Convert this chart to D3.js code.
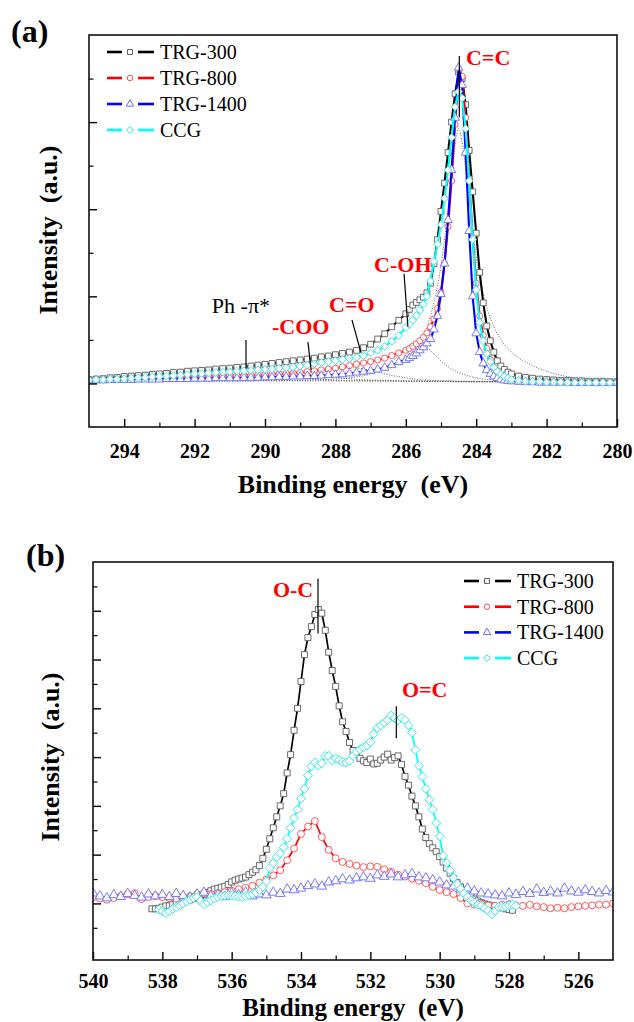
<!DOCTYPE html>
<html>
<head>
<meta charset="utf-8">
<title>XPS C1s and O1s</title>
<script src="https://cdn.jsdelivr.net/npm/d3@7/dist/d3.min.js"></script>
<style>
  body { margin: 0; background: #fff; }
  svg { display: block; font-family: "Liberation Serif", "Times New Roman", serif; }
</style>
</head>
<body>
<svg id="chart" width="634" height="1022"></svg>
<script>
// ---------- data ----------
const seriesNames = ["TRG-300", "TRG-800", "TRG-1400", "CCG"];

// (a) C1s, binding energy grid (eV)
const c1sEnergies = [295.0,294.8,294.6,294.4,294.2,294.0,293.8,293.6,293.4,293.2,293.0,292.8,292.6,292.4,292.2,
  292.0,291.8,291.6,291.4,291.2,291.0,290.8,290.6,290.4,290.2,290.0,289.8,289.6,289.4,289.2,
  289.0,288.8,288.6,288.4,288.2,288.0,287.8,287.6,287.4,287.2,287.0,286.8,286.6,286.4,286.2,
  286.0,285.9,285.8,285.7,285.6,285.5,285.4,285.3,285.2,285.1,285.0,284.9,284.8,284.7,284.6,
  284.5,284.4,284.3,284.2,284.1,284.0,283.9,283.8,283.7,283.6,283.5,283.4,283.3,283.2,283.1,283.0,
  282.8,282.6,282.4,282.2,282.0,281.8,281.6,281.4,281.2,281.0,280.8,280.6,280.4,280.2,280.0];

const c1sTRG300 = [0.09,0.10,0.11,0.13,0.14,0.16,0.17,0.18,0.19,0.21,0.22,0.23,0.25,0.26,0.28,
  0.29,0.30,0.31,0.33,0.34,0.35,0.37,0.38,0.40,0.42,0.44,0.46,0.48,0.50,0.52,
  0.54,0.56,0.58,0.61,0.63,0.66,0.69,0.72,0.76,0.82,0.90,1.02,1.14,1.30,1.45,
  1.60,1.70,1.80,1.86,1.92,1.98,2.08,2.30,2.75,3.30,3.95,4.60,5.30,6.00,6.65,
  7.15,7.00,6.40,5.35,4.40,3.45,2.55,1.85,1.32,0.98,0.72,0.52,0.40,0.32,0.26,0.22,
  0.17,0.14,0.12,0.10,0.09,0.08,0.07,0.07,0.06,0.06,0.05,0.05,0.05,0.04,0.04];

const c1sTRG800 = [0.08,0.08,0.09,0.09,0.10,0.10,0.11,0.11,0.12,0.12,0.13,0.13,0.14,0.14,0.15,
  0.15,0.16,0.16,0.17,0.17,0.18,0.18,0.19,0.19,0.20,0.20,0.21,0.22,0.23,0.24,
  0.25,0.27,0.29,0.31,0.33,0.35,0.38,0.41,0.44,0.47,0.50,0.54,0.58,0.64,0.70,
  0.76,0.80,0.85,0.91,0.98,1.06,1.16,1.30,1.48,1.72,2.10,2.75,3.60,4.65,5.95,
  7.20,7.05,6.10,4.70,3.35,2.30,1.55,1.10,0.80,0.55,0.36,0.24,0.15,0.11,0.08,0.06,
  0.05,0.04,0.04,0.03,0.03,0.03,0.03,0.02,0.02,0.02,0.02,0.02,0.02,0.02,0.02];

const c1sTRG1400 = [0.07,0.07,0.07,0.08,0.08,0.08,0.08,0.09,0.09,0.09,0.09,0.10,0.10,0.10,0.10,
  0.11,0.11,0.11,0.12,0.12,0.12,0.12,0.13,0.13,0.13,0.14,0.14,0.15,0.15,0.16,
  0.16,0.17,0.17,0.18,0.19,0.20,0.21,0.23,0.25,0.27,0.29,0.32,0.36,0.42,0.49,
  0.54,0.58,0.63,0.69,0.76,0.83,0.92,1.02,1.24,1.55,2.05,2.75,3.75,4.90,6.10,
  7.25,6.85,5.30,3.50,2.00,1.15,0.72,0.46,0.31,0.22,0.16,0.12,0.09,0.07,0.06,0.05,
  0.04,0.03,0.03,0.02,0.02,0.02,0.02,0.02,0.01,0.01,0.01,0.01,0.01,0.01,0.01];

const c1sCCG = [0.08,0.09,0.09,0.10,0.10,0.11,0.12,0.13,0.14,0.15,0.16,0.17,0.18,0.19,0.21,
  0.22,0.23,0.24,0.25,0.26,0.27,0.28,0.29,0.30,0.31,0.32,0.33,0.35,0.36,0.38,
  0.40,0.42,0.45,0.48,0.50,0.52,0.55,0.57,0.60,0.64,0.70,0.76,0.85,0.97,1.10,
  1.28,1.36,1.45,1.56,1.68,1.82,2.00,2.35,2.80,3.20,3.65,4.25,4.90,5.65,6.35,
  6.70,6.55,5.85,4.65,3.30,2.15,1.40,0.98,0.68,0.50,0.37,0.28,0.21,0.16,0.12,0.09,
  0.07,0.05,0.04,0.04,0.03,0.03,0.03,0.02,0.02,0.02,0.02,0.02,0.02,0.02,0.02];

// (a) fitted components (dotted)
const fitEnergies = [295,294,293,292,291,290.5,290,289.5,289,288.5,288,287.5,287,286.5,286,285.75,
  285.5,285.25,285,284.75,284.5,284.25,284,283.75,283.5,283.25,283,282.5,282,281.5,281,280.5,280];
const fitBackground = [0.07,0.07,0.07,0.07,0.07,0.07,0.07,0.07,0.06,0.06,0.06,0.06,0.06,0.06,0.05,0.05,
  0.05,0.05,0.05,0.05,0.04,0.04,0.04,0.04,0.04,0.04,0.04,0.03,0.03,0.03,0.03,0.03,0.03];
const fitCC = [0.05,0.05,0.06,0.07,0.08,0.09,0.10,0.11,0.13,0.15,0.18,0.22,0.28,0.38,0.58,0.78,
  1.10,1.70,2.70,4.30,5.85,4.60,2.90,1.90,1.30,0.95,0.72,0.45,0.28,0.17,0.11,0.08,0.06];
const fitCOH = [0.05,0.05,0.05,0.05,0.05,0.05,0.06,0.06,0.07,0.08,0.10,0.14,0.22,0.42,0.80,0.95,
  0.90,0.72,0.52,0.36,0.25,0.18,0.13,0.10,0.08,0.07,0.06,0.05,0.05,0.04,0.04,0.04,0.04];
const fitCO = [0.05,0.05,0.05,0.06,0.07,0.08,0.09,0.12,0.16,0.24,0.32,0.36,0.30,0.20,0.13,0.10,
  0.08,0.07,0.06,0.06,0.05,0.05,0.05,0.05,0.04,0.04,0.04,0.04,0.04,0.03,0.03,0.03,0.03];
const fitCOO = [0.05,0.06,0.07,0.09,0.12,0.15,0.18,0.21,0.22,0.19,0.14,0.10,0.08,0.07,0.06,0.06,
  0.05,0.05,0.05,0.05,0.05,0.04,0.04,0.04,0.04,0.04,0.04,0.04,0.03,0.03,0.03,0.03,0.03];
const fitPi = [0.07,0.09,0.12,0.17,0.20,0.19,0.17,0.14,0.11,0.09,0.07,0.06,0.06,0.05,0.05,0.05,
  0.05,0.05,0.05,0.04,0.04,0.04,0.04,0.04,0.04,0.04,0.04,0.03,0.03,0.03,0.03,0.03,0.03];

// (b) O1s, sampled from a start energy downwards
const o1sFineStep = 0.1, o1sCoarseStep = 0.2;
const o1sTRG300Start = 538.3, o1sCCGStart = 538.1, o1sWideStart = 540.0;

const o1sTRG300 = [-0.22,-0.22,-0.20,-0.15,-0.10,-0.10,-0.05,0.00,0.05,0.08,
  0.12,0.15,0.20,0.25,0.30,0.36,0.45,0.52,0.58,0.62,
  0.66,0.70,0.78,0.88,0.95,1.00,1.04,1.08,1.18,1.28,
  1.38,1.55,1.85,2.22,2.65,3.10,3.55,4.00,4.50,5.35,
  6.10,7.10,8.00,9.10,10.20,10.90,11.35,11.85,12.05,11.90,
  11.20,10.30,9.55,8.90,8.10,7.45,7.05,6.60,6.27,6.12,
  5.95,5.85,5.78,5.92,5.72,5.75,5.88,6.00,6.12,5.88,
  5.98,6.05,5.70,5.20,4.85,4.40,4.00,3.55,3.05,2.70,
  2.45,2.28,2.12,1.92,1.70,1.45,1.24,1.02,0.85,0.68,
  0.55,0.40,0.30,0.18,0.10,0.03,-0.02,-0.06,-0.10,-0.12,
  -0.14,-0.18,-0.22,-0.25,-0.28];

const o1sCCG = [-0.25,-0.32,-0.40,-0.32,-0.22,-0.15,-0.10,0.00,0.08,0.15,
  0.22,0.26,0.10,-0.03,0.05,0.13,0.20,0.26,0.30,0.32,
  0.34,0.32,0.30,0.28,0.27,0.30,0.34,0.38,0.45,0.55,
  0.68,0.90,1.45,1.65,1.90,2.05,2.30,2.65,3.10,3.50,
  3.85,4.30,4.70,5.25,5.62,5.78,5.65,5.75,6.05,6.05,
  5.86,5.95,5.88,5.80,5.78,5.85,6.05,6.22,6.32,6.40,
  6.47,6.62,6.95,7.20,7.30,7.40,7.52,7.70,7.60,7.50,
  7.60,7.52,7.30,7.00,6.30,5.65,5.20,4.70,4.25,3.85,
  3.30,2.75,1.95,1.66,1.36,1.05,0.80,0.60,0.40,0.25,
  0.12,0.03,-0.05,-0.10,-0.20,-0.30,-0.45,-0.30,-0.15,-0.15,
  -0.12,-0.08,-0.05,-0.10];

const o1sTRG800 = [0.25,0.20,0.15,0.22,0.30,0.38,0.42,0.18,0.26,0.30,
  0.26,0.22,0.20,0.26,0.30,0.38,0.42,0.38,0.42,0.46,
  0.52,0.58,0.64,0.72,0.85,0.98,1.15,1.36,1.77,2.25,
  2.85,3.15,3.38,2.72,2.20,1.85,1.70,1.62,1.55,1.49,
  1.52,1.50,1.40,1.30,1.18,1.10,1.02,0.93,0.83,0.68,
  0.55,0.46,0.38,0.22,0.00,-0.05,-0.03,-0.08,-0.10,-0.05,
  -0.03,-0.08,-0.10,-0.06,-0.12,-0.15,-0.20,-0.18,-0.20,-0.15,
  -0.12,-0.10,-0.08,-0.05,-0.05,0.00];

const o1sTRG1400 = [0.42,0.30,0.22,0.35,0.28,0.40,0.32,0.25,0.38,0.30,
  0.36,0.27,0.40,0.32,0.25,0.38,0.45,0.30,0.36,0.28,
  0.42,0.35,0.46,0.30,0.38,0.34,0.45,0.40,0.58,0.55,
  0.62,0.72,0.79,0.70,0.87,0.92,1.00,0.95,1.04,1.08,
  1.02,1.16,1.10,1.20,1.08,1.16,1.22,1.08,1.04,0.96,
  0.87,0.75,0.70,0.58,0.62,0.50,0.42,0.38,0.34,0.30,
  0.42,0.36,0.48,0.40,0.58,0.44,0.50,0.42,0.62,0.50,
  0.45,0.55,0.48,0.42,0.52,0.46];

// tick values
const c1sMajorTicks = [294, 292, 290, 288, 286, 284, 282, 280];
const c1sMinorTicks = [293, 291, 289, 287, 285, 283, 281];
const o1sMajorTicks = [540, 538, 536, 534, 532, 530, 528, 526];
const o1sMinorTicks = [539, 537, 535, 533, 531, 529, 527];

// ---------- style ----------
const serif = '"Liberation Serif", "Times New Roman", serif';
const lineColors = ["#000000", "#ff0000", "#0000ff", "#00ffff"];
const markColors = ["#5a5a5a", "#ff4a4a", "#6a6aff", "#22e4e4"];
const diamond = {
  draw(ctx, size) {
    const r = Math.sqrt(size / 2);
    ctx.moveTo(0, -r); ctx.lineTo(r, 0); ctx.lineTo(0, r); ctx.lineTo(-r, 0); ctx.closePath();
  }
};
const symbolTypes = [d3.symbolSquare, d3.symbolCircle, d3.symbolTriangle, diamond];

const svg = d3.select("#chart");

function gridFrom(start, step, n) {
  return d3.range(n).map(i => +(start - i * step).toFixed(2));
}

function drawPanel(p) {
  const x = d3.scaleLinear().domain(p.xDomain).range([p.left, p.right]);
  const y = d3.scaleLinear().domain(p.yDomain).range([p.bottom, p.top]);
  const line = d3.line().x(d => x(d[0])).y(d => y(d[1]));
  const smooth = d3.line().x(d => x(d[0])).y(d => y(d[1])).curve(d3.curveMonotoneX);
  const g = svg.append("g");

  g.append("clipPath").attr("id", "clip-" + p.id)
    .append("rect")
    .attr("x", p.left).attr("y", p.top)
    .attr("width", p.right - p.left).attr("height", p.bottom - p.top);
  const plot = g.append("g").attr("clip-path", `url(#clip-${p.id})`);

  // dotted fitted components
  (p.fits || []).forEach(f => {
    plot.append("path")
      .datum(d3.zip(p.fitX, f))
      .attr("fill", "none")
      .attr("stroke", "#555")
      .attr("stroke-width", 0.9)
      .attr("stroke-dasharray", "1,1.6")
      .attr("d", smooth);
  });

  p.series.forEach((s, i) => {
    const pts = d3.zip(s.x, s.y);
    plot.append("path")
      .datum(pts)
      .attr("fill", "none")
      .attr("stroke", lineColors[i])
      .attr("stroke-width", p.lineWidth)
      .attr("stroke-linejoin", "round")
      .attr("d", line);
    plot.append("g")
      .selectAll("path")
      .data(pts)
      .join("path")
      .attr("transform", d => `translate(${x(d[0])},${y(d[1])})`)
      .attr("d", d3.symbol().type(symbolTypes[i]).size(p.markSize[i]))
      .attr("fill", "#fff")
      .attr("stroke", markColors[i])
      .attr("stroke-width", 0.9);
  });

  // axes: ticks pointing inward
  const fontBold = s => s.attr("font-family", serif).attr("font-weight", "bold");
  g.append("g")
    .attr("transform", `translate(0,${p.bottom})`)
    .call(d3.axisBottom(x).tickValues(p.xMajor).tickSizeInner(-8).tickSizeOuter(0).tickFormat(d3.format("d")))
    .call(a => a.select(".domain").remove())
    .call(a => a.selectAll("line").attr("stroke", "#000").attr("stroke-width", 1.4))
    .call(a => a.selectAll("text").call(fontBold).attr("font-size", 20).attr("fill", "#000")
      .attr("y", p.tickLabelOffset).attr("dy", null));
  g.append("g")
    .attr("transform", `translate(0,${p.bottom})`)
    .call(d3.axisBottom(x).tickValues(p.xMinor).tickSizeInner(-4.5).tickSizeOuter(0).tickFormat(""))
    .call(a => a.select(".domain").remove())
    .call(a => a.selectAll("line").attr("stroke", "#000").attr("stroke-width", 1.2));
  g.append("g")
    .attr("transform", `translate(${p.left},0)`)
    .call(d3.axisLeft(y).tickValues(p.yMajor).tickSizeInner(-8).tickSizeOuter(0).tickFormat(""))
    .call(a => a.select(".domain").remove())
    .call(a => a.selectAll("line").attr("stroke", "#000").attr("stroke-width", 1.4));
  g.append("g")
    .attr("transform", `translate(${p.left},0)`)
    .call(d3.axisLeft(y).tickValues(p.yMinor).tickSizeInner(-4.5).tickSizeOuter(0).tickFormat(""))
    .call(a => a.select(".domain").remove())
    .call(a => a.selectAll("line").attr("stroke", "#000").attr("stroke-width", 1.2));

  g.append("rect")
    .attr("x", p.left).attr("y", p.top)
    .attr("width", p.right - p.left).attr("height", p.bottom - p.top)
    .attr("fill", "none").attr("stroke", "#111").attr("stroke-width", 1.6);

  // titles
  g.append("text")
    .attr("x", (p.left + p.right) / 2).attr("y", p.bottom + p.xTitleOffset)
    .attr("text-anchor", "middle").attr("font-size", p.xTitleSize).call(fontBold)
    .style("white-space", "pre")
    .text("Binding energy  (eV)");
  g.append("text")
    .attr("transform", `translate(${p.yTitleX},${p.yTitleY}) rotate(-90)`)
    .attr("text-anchor", "middle").attr("font-size", 26).call(fontBold)
    .style("white-space", "pre")
    .text("Intensity  (a.u.)");
  g.append("text")
    .attr("x", p.tag.x).attr("y", p.tag.y)
    .attr("font-size", 32).call(fontBold)
    .text(p.tag.text);

  // legend
  const lg = g.append("g").attr("transform", `translate(${p.legend.x},${p.legend.y})`);
  seriesNames.forEach((name, i) => {
    const row = lg.append("g").attr("transform", `translate(0,${i * p.legend.dy})`);
    row.append("line").attr("x1", 0).attr("x2", 15).attr("stroke", lineColors[i]).attr("stroke-width", 2.6);
    row.append("line").attr("x1", 31).attr("x2", 47).attr("stroke", lineColors[i]).attr("stroke-width", 2.6);
    row.append("path")
      .attr("transform", "translate(23,0)")
      .attr("d", d3.symbol().type(symbolTypes[i]).size(24))
      .attr("fill", "none").attr("stroke", markColors[i]).attr("stroke-width", 1);
    row.append("text")
      .attr("x", 53).attr("y", 7)
      .attr("font-size", 20).attr("font-family", serif)
      .text(name);
  });

  // peak annotations
  p.notes.forEach(n => {
    g.append("line")
      .attr("x1", x(n.e1)).attr("y1", y(n.v1))
      .attr("x2", x(n.e2)).attr("y2", y(n.v2))
      .attr("stroke", "#000").attr("stroke-width", 1.2);
    g.append("text")
      .attr("x", x(n.te)).attr("y", y(n.tv))
      .attr("font-size", 22)
      .attr("font-family", serif)
      .attr("font-weight", n.bold ? "bold" : "normal")
      .attr("fill", n.color)
      .text(n.text);
  });
}

drawPanel({
  id: "a",
  left: 89, right: 617, top: 35, bottom: 427,
  xDomain: [295, 280], yDomain: [-1, 8],
  xMajor: c1sMajorTicks, xMinor: c1sMinorTicks,
  yMajor: [0, 2, 4, 6], yMinor: [1, 3, 5, 7],
  tickLabelOffset: 31, xTitleOffset: 66, xTitleSize: 26,
  yTitleX: 57, yTitleY: 230,
  tag: { text: "(a)", x: 11, y: 42 },
  lineWidth: 2.1,
  markSize: [34, 30, 32, 30],
  fitX: fitEnergies,
  fits: [fitBackground, fitPi, fitCOO, fitCO, fitCOH, fitCC],
  series: [
    { x: c1sEnergies, y: c1sTRG300 },
    { x: c1sEnergies, y: c1sTRG800 },
    { x: c1sEnergies, y: c1sTRG1400 },
    { x: c1sEnergies, y: c1sCCG }
  ],
  legend: { x: 107, y: 52, dy: 26 },
  notes: [
    { text: "C=C", color: "#ff0000", bold: true, te: 284.29, tv: 7.31, e1: 284.48, v1: 7.52, e2: 284.48, v2: 6.11 },
    { text: "C-OH", color: "#ff0000", bold: true, te: 286.90, tv: 2.56, e1: 286.05, v1: 2.52, e2: 285.94, v2: 1.30 },
    { text: "C=O", color: "#ff0000", bold: true, te: 288.18, tv: 1.64, e1: 287.53, v1: 1.46, e2: 287.27, v2: 0.70 },
    { text: "-COO", color: "#ff0000", bold: true, te: 289.80, tv: 1.14, e1: 288.78, v1: 0.95, e2: 288.69, v2: 0.31 },
    { text: "Ph -\u03c0*", color: "#000000", bold: false, te: 291.51, tv: 1.62, e1: 290.54, v1: 1.00, e2: 290.54, v2: 0.35 }
  ]
});

drawPanel({
  id: "b",
  left: 93, right: 613, top: 562, bottom: 960,
  xDomain: [540, 525], yDomain: [-2.32, 14],
  xMajor: o1sMajorTicks, xMinor: o1sMinorTicks,
  yMajor: [0, 2, 4, 6, 8, 10, 12], yMinor: [-1, 1, 3, 5, 7, 9, 11, 13],
  tickLabelOffset: 28, xTitleOffset: 56, xTitleSize: 25,
  yTitleX: 59, yTitleY: 757,
  tag: { text: "(b)", x: 26, y: 566 },
  lineWidth: 1.7,
  markSize: [36, 38, 40, 40],
  series: [
    { x: gridFrom(o1sTRG300Start, o1sFineStep, o1sTRG300.length), y: o1sTRG300 },
    { x: gridFrom(o1sWideStart, o1sCoarseStep, o1sTRG800.length), y: o1sTRG800 },
    { x: gridFrom(o1sWideStart, o1sCoarseStep, o1sTRG1400.length), y: o1sTRG1400 },
    { x: gridFrom(o1sCCGStart, o1sFineStep, o1sCCG.length), y: o1sCCG }
  ],
  legend: { x: 464, y: 581, dy: 25.7 },
  notes: [
    { text: "O-C", color: "#ff0000", bold: true, te: 534.81, tv: 12.58, e1: 533.51, v1: 13.32, e2: 533.51, v2: 11.07 },
    { text: "O=C", color: "#ff0000", bold: true, te: 531.09, tv: 8.45, e1: 531.25, v1: 8.08, e2: 531.25, v2: 6.77 }
  ]
});
</script>
</body>
</html>
